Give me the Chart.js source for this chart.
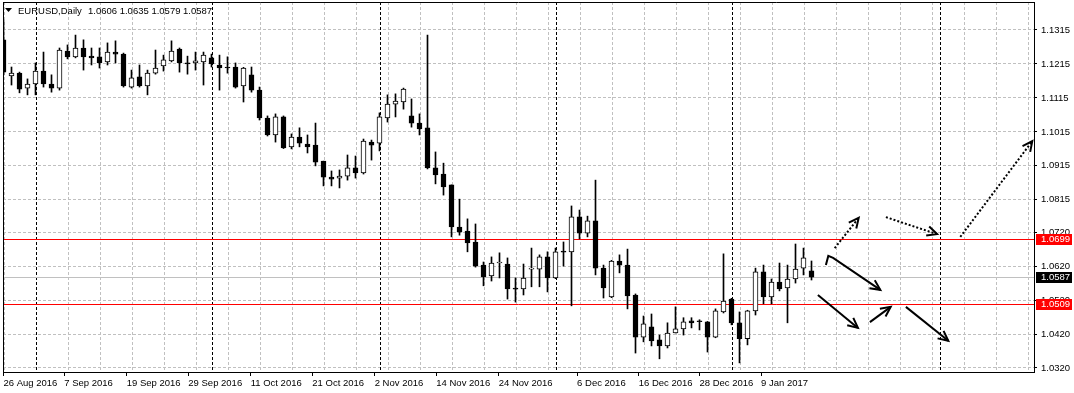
<!DOCTYPE html>
<html>
<head>
<meta charset="utf-8">
<script src="https://cdn.jsdelivr.net/npm/chart.js@4.4.1/dist/chart.umd.min.js"></script>
<style>
  html, body { margin: 0; padding: 0; background: #fff; }
</style>
</head>
<body>
<canvas id="chart" width="1074" height="393"></canvas>
<script>
  'use strict';

  // EURUSD daily bars, oldest first (bar 0 = 26 Aug 2016)
  const opens = [
    1.1286, 1.1180, 1.1188, 1.1144, 1.1156, 1.1194, 1.1156, 1.1144, 1.1253, 1.1236,
    1.1262, 1.1238, 1.1236, 1.1221, 1.1250, 1.1244, 1.1147, 1.1177, 1.1150, 1.1188,
    1.1209, 1.1224, 1.1259, 1.1218, 1.1218, 1.1221, 1.1233, 1.1212, 1.1206, 1.1206,
    1.1150, 1.1183, 1.1138, 1.1056, 1.1006, 1.1059, 1.0971, 1.1000, 1.0979, 1.0976,
    1.0929, 1.0882, 1.0879, 1.0885, 1.0909, 1.0894, 1.0985, 1.0982, 1.1056, 1.1097,
    1.1103, 1.1062, 1.1041, 1.1027, 1.0909, 1.0891, 1.0859, 1.0735, 1.0723, 1.0691,
    1.0623, 1.0591, 1.0629, 1.0626, 1.0553, 1.0553, 1.0611, 1.0611, 1.0647, 1.0585,
    1.0664, 1.0662, 1.0765, 1.0717, 1.0753, 1.0614, 1.0529, 1.0635, 1.0623, 1.0535,
    1.0411, 1.0441, 1.0403, 1.0385, 1.0423, 1.0435, 1.0459, 1.0459, 1.0456, 1.0411,
    1.0485, 1.0523, 1.0453, 1.0406, 1.0488, 1.0603, 1.0529, 1.0573, 1.0556, 1.0582,
    1.0614, 1.0606
  ];
  const highs = [
    1.1344, 1.1206, 1.1191, 1.1171, 1.1218, 1.1250, 1.1183, 1.1262, 1.1271, 1.1300,
    1.1286, 1.1262, 1.1262, 1.1277, 1.1283, 1.1247, 1.1197, 1.1212, 1.1197, 1.1256,
    1.1241, 1.1283, 1.1262, 1.1238, 1.1250, 1.1250, 1.1244, 1.1241, 1.1236, 1.1218,
    1.1205, 1.1206, 1.1147, 1.1062, 1.1068, 1.1062, 1.1009, 1.1027, 1.1006, 1.1041,
    1.0929, 1.0900, 1.0903, 1.0947, 1.0944, 1.0994, 1.0991, 1.1071, 1.1124, 1.1127,
    1.1144, 1.1112, 1.1068, 1.1300, 1.0956, 1.0923, 1.0859, 1.0817, 1.0759, 1.0744,
    1.0632, 1.0647, 1.0659, 1.0644, 1.0585, 1.0626, 1.0673, 1.0653, 1.0662, 1.0673,
    1.0691, 1.0797, 1.0785, 1.0767, 1.0873, 1.0623, 1.0637, 1.0653, 1.0670, 1.0538,
    1.0473, 1.0479, 1.0417, 1.0453, 1.0500, 1.0468, 1.0468, 1.0462, 1.0457, 1.0494,
    1.0656, 1.0525, 1.0485, 1.0490, 1.0614, 1.0623, 1.0582, 1.0629, 1.0623, 1.0685,
    1.0673, 1.0635
  ];
  const lows = [
    1.1183, 1.1153, 1.1130, 1.1124, 1.1124, 1.1147, 1.1132, 1.1138, 1.1230, 1.1233,
    1.1197, 1.1212, 1.1203, 1.1212, 1.1218, 1.1147, 1.1144, 1.1147, 1.1124, 1.1185,
    1.1194, 1.1221, 1.1191, 1.1185, 1.1197, 1.1153, 1.1206, 1.1138, 1.1188, 1.1144,
    1.1103, 1.1132, 1.1050, 1.1003, 1.0985, 1.0966, 1.0965, 1.0971, 1.0953, 1.0915,
    1.0856, 1.0856, 1.0850, 1.0873, 1.0879, 1.0891, 1.0932, 1.0959, 1.1044, 1.1059,
    1.1082, 1.1029, 1.1006, 1.0906, 1.0862, 1.0829, 1.0706, 1.0711, 1.0662, 1.0617,
    1.0562, 1.0576, 1.0585, 1.0523, 1.0514, 1.0535, 1.0559, 1.0559, 1.0544, 1.0583,
    1.0620, 1.0503, 1.0700, 1.0706, 1.0594, 1.0526, 1.0527, 1.0600, 1.0494, 1.0364,
    1.0397, 1.0385, 1.0347, 1.0379, 1.0423, 1.0417, 1.0438, 1.0432, 1.0367, 1.0409,
    1.0482, 1.0447, 1.0335, 1.0388, 1.0476, 1.0509, 1.0509, 1.0547, 1.0453, 1.0570,
    1.0594, 1.0579
  ];
  const closes = [
    1.1191, 1.1188, 1.1141, 1.1156, 1.1194, 1.1156, 1.1144, 1.1256, 1.1236, 1.1262,
    1.1236, 1.1233, 1.1218, 1.1250, 1.1244, 1.1150, 1.1174, 1.1150, 1.1188, 1.1203,
    1.1227, 1.1253, 1.1218, 1.1215, 1.1224, 1.1241, 1.1215, 1.1203, 1.1203, 1.1147,
    1.1203, 1.1138, 1.1056, 1.1006, 1.1059, 1.0968, 1.1000, 1.0982, 1.0971, 1.0926,
    1.0882, 1.0876, 1.0885, 1.0909, 1.0894, 1.0988, 1.0976, 1.1059, 1.1097, 1.1106,
    1.1141, 1.1041, 1.1024, 1.0909, 1.0888, 1.0853, 1.0735, 1.0720, 1.0688, 1.0620,
    1.0588, 1.0629, 1.0630, 1.0553, 1.0552, 1.0585, 1.0612, 1.0647, 1.0585, 1.0662,
    1.0661, 1.0765, 1.0717, 1.0753, 1.0614, 1.0556, 1.0635, 1.0623, 1.0532, 1.0411,
    1.0450, 1.0400, 1.0385, 1.0423, 1.0435, 1.0456, 1.0453, 1.0456, 1.0411, 1.0488,
    1.0517, 1.0453, 1.0406, 1.0488, 1.0603, 1.0529, 1.0573, 1.0553, 1.0582, 1.0611,
    1.0644, 1.0587
  ];

  // time axis labels and the bar position where each one starts
  const dateLabels = ['26 Aug 2016', '7 Sep 2016', '19 Sep 2016', '29 Sep 2016', '11 Oct 2016',
    '21 Oct 2016', '2 Nov 2016', '14 Nov 2016', '24 Nov 2016', '6 Dec 2016', '16 Dec 2016',
    '28 Dec 2016', '9 Jan 2017'];
  const dateLabelBars = [0, 7.6, 15.4, 23.1, 30.9, 38.6, 46.4, 54.1, 61.9, 71.7, 79.4, 87, 94.7];

  // price axis ticks
  const priceTicks = [1.1315, 1.1215, 1.1115, 1.1015, 1.0915, 1.0815, 1.0720, 1.0620, 1.0520, 1.0420, 1.0320];

  // month separators (bar index of first day of month)
  const monthStarts = [4, 26, 47, 69, 91, 117];

  // horizontal levels
  const supportResistance = [1.0699, 1.0509];
  const bidPrice = 1.0587;

  // hand drawn scenario arrows, in (bar, price)
  const arrows = [
    { pts: [[103.9, 1.0673], [106.9, 1.0762]], dotted: true },
    { pts: [[110.3, 1.0764], [116.7, 1.0714]], dotted: true },
    { pts: [[119.6, 1.0706], [128.6, 1.0988]], dotted: true },
    { pts: [[102.8, 1.0623], [103.1, 1.0650], [103.7, 1.0644], [109.6, 1.0550]], dotted: false },
    { pts: [[101.8, 1.0535], [106.8, 1.0438]], dotted: false },
    { pts: [[108.3, 1.0455], [110.9, 1.0500]], dotted: false },
    { pts: [[112.8, 1.0500], [118.1, 1.0400]], dotted: false }
  ];

  const FONT = { family: 'Liberation Sans', size: 9.5 };
  const fontStr = '9.5px "Liberation Sans"';

  const bodies = opens.map((o, i) => ({ x: i, y: [o, closes[i]] }));
  const wicks = lows.map((l, i) => ({ x: i, y: [l, highs[i]] }));
  const bodyColors = opens.map((o, i) => closes[i] >= o ? '#ffffff' : '#000000');

  function line(ctx, x1, y1, x2, y2) {
    ctx.beginPath();
    ctx.moveTo(x1, y1);
    ctx.lineTo(x2, y2);
    ctx.stroke();
  }

  const decor = {
    id: 'decor',
    beforeDatasetsDraw(chart) {
      const { ctx, chartArea: a, scales: { x, y } } = chart;
      ctx.save();
      ctx.lineWidth = 1;

      // vertical grid every 4 bars
      ctx.strokeStyle = '#c0c0c0';
      ctx.setLineDash([3, 2]);
      for (let v = 0; v <= x.max; v += 4) {
        const px = Math.round(x.getPixelForValue(v)) + 0.5;
        line(ctx, px, a.top, px, a.bottom);
      }

      // period separators
      ctx.strokeStyle = '#000000';
      monthStarts.forEach(function (v) {
        const px = Math.round(x.getPixelForValue(v)) + 0.5;
        line(ctx, px, a.top, px, a.bottom);
      });

      ctx.setLineDash([]);
      // bid line
      ctx.strokeStyle = '#c0c0c0';
      let py = Math.round(y.getPixelForValue(bidPrice)) + 0.5;
      line(ctx, a.left, py, a.right, py);

      // levels
      ctx.strokeStyle = '#ff0000';
      supportResistance.forEach(function (v) {
        const p = Math.round(y.getPixelForValue(v)) + 0.5;
        line(ctx, a.left, p, a.right, p);
      });
      ctx.restore();
    },
    afterDraw(chart) {
      const { ctx, chartArea: a, scales: { x, y } } = chart;
      ctx.save();

      // frame top / left
      ctx.strokeStyle = '#000';
      ctx.lineWidth = 1;
      line(ctx, Math.round(a.left) + 0.5, a.top, Math.round(a.left) + 0.5, a.bottom);
      line(ctx, a.left, Math.round(a.top) + 0.5, a.right, Math.round(a.top) + 0.5);

      // arrows
      ctx.lineCap = 'butt';
      arrows.forEach(function (arr) {
        const p = arr.pts.map(pt => [x.getPixelForValue(pt[0]), y.getPixelForValue(pt[1])]);
        ctx.lineWidth = 2;
        ctx.setLineDash(arr.dotted ? [2, 2] : []);
        ctx.beginPath();
        ctx.moveTo(p[0][0], p[0][1]);
        for (let i = 1; i < p.length; i++) ctx.lineTo(p[i][0], p[i][1]);
        ctx.stroke();
        ctx.setLineDash([]);
        const tip = p[p.length - 1], prev = p[p.length - 2];
        const ang = Math.atan2(tip[1] - prev[1], tip[0] - prev[0]);
        const len = 11;
        ctx.beginPath();
        ctx.moveTo(tip[0] - len * Math.cos(ang - 0.45), tip[1] - len * Math.sin(ang - 0.45));
        ctx.lineTo(tip[0], tip[1]);
        ctx.lineTo(tip[0] - len * Math.cos(ang + 0.45), tip[1] - len * Math.sin(ang + 0.45));
        ctx.stroke();
      });

      // price tags on the axis
      ctx.font = fontStr;
      ctx.textBaseline = 'middle';
      const tags = [
        { v: supportResistance[0], bg: '#ff0000' },
        { v: bidPrice, bg: '#000000' },
        { v: supportResistance[1], bg: '#ff0000' }
      ];
      tags.forEach(function (t) {
        const py = Math.round(y.getPixelForValue(t.v));
        ctx.fillStyle = t.bg;
        ctx.fillRect(a.right + 2, py - 5, 36, 11);
        ctx.fillStyle = '#ffffff';
        ctx.fillText(t.v.toFixed(4), a.right + 7, py + 0.5);
      });

      // header
      const last = opens.length - 1;
      ctx.fillStyle = '#000';
      ctx.beginPath();
      ctx.moveTo(5, 8);
      ctx.lineTo(12, 8);
      ctx.lineTo(8.5, 12);
      ctx.closePath();
      ctx.fill();
      ctx.fillText('EURUSD,Daily', 18, 11);
      ctx.fillText([opens[last], highs[last], lows[last], closes[last]]
        .map(v => v.toFixed(4)).join(' '), 88, 11);
      ctx.restore();
    }
  };

  new Chart(document.getElementById('chart'), {
    type: 'bar',
    data: {
      datasets: [{
        data: bodies,
        backgroundColor: bodyColors,
        borderColor: '#000000',
        borderWidth: 1,
        borderSkipped: false,
        barThickness: 5,
        minBarLength: 1,
        grouped: false,
        order: 0
      }, {
        data: wicks,
        backgroundColor: '#000000',
        borderWidth: 0,
        barThickness: 1,
        grouped: false,
        order: 1
      }]
    },
    options: {
      responsive: false,
      animation: false,
      devicePixelRatio: 1,
      layout: { padding: { left: 3, top: 2, right: 0, bottom: 0 } },
      plugins: { legend: { display: false }, tooltip: { enabled: false } },
      scales: {
        x: {
          type: 'linear',
          min: -0.0625,
          max: -0.0625 + 1031 / 8,
          offset: false,
          grid: { display: true, offset: false, drawOnChartArea: false, drawTicks: true, tickLength: 4, tickColor: '#000' },
          border: { display: true, color: '#000', width: 1 },
          ticks: {
            autoSkip: false, maxRotation: 0, minRotation: 0, align: 'start', padding: 2,
            color: '#000', font: FONT,
            callback: (v, i) => dateLabels[i]
          },
          afterBuildTicks: s => { s.ticks = dateLabelBars.map(v => ({ value: v })); },
          afterFit: s => { s.height = 21; s.paddingLeft = 0; s.paddingRight = 0; }
        },
        y: {
          type: 'linear',
          position: 'right',
          min: 1.03082,
          max: 1.13974,
          grid: { color: '#c0c0c0', drawTicks: true, tickLength: 3, tickColor: '#000' },
          border: { display: true, color: '#000', width: 1, dash: [3, 2] },
          ticks: {
            padding: 4, color: '#000', font: FONT,
            callback: v => v.toFixed(4)
          },
          afterBuildTicks: s => { s.ticks = priceTicks.map(v => ({ value: v })); },
          afterFit: s => { s.width = 40; s.paddingTop = 0; s.paddingBottom = 0; }
        }
      }
    },
    plugins: [decor]
  });
</script>
</body>
</html>
